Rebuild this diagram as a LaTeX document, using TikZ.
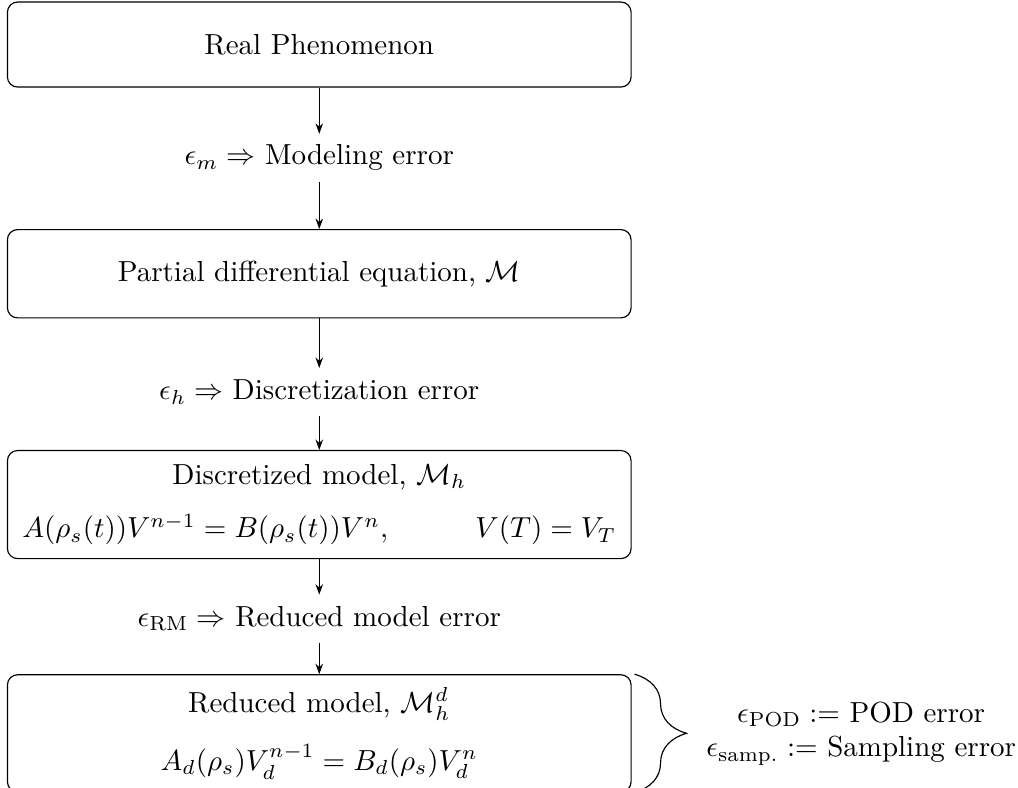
\documentclass[tikz,border=0pt]{standalone}
\usepackage{amsmath,amssymb}
\usetikzlibrary{arrows.meta,positioning,decorations.pathreplacing}
\tikzset{
  bloco/.style={rectangle, draw, rounded corners=3.5pt,
                minimum width=7.56cm, minimum height=1.03cm,
                inner sep=2pt, align=center},
  rotulo/.style={inner sep=0pt, minimum height=0.57cm},
  seta/.style={-{Stealth[length=3.6pt, width=2.6pt]}},
  chave/.style={decorate, decoration={brace, amplitude=0.63cm, raise=1pt}},
}

\begin{document}
\begin{tikzpicture}[node distance=0.56cm]
  \useasboundingbox (0,0) rectangle (12.34,-9.55);

  \node[bloco] (fen) at (3.87,-0.54) {Real Phenomenon};
  \node[rotulo, below=0.56cm of fen] (em) {$\epsilon_m \Rightarrow$ Modeling error};
  \node[bloco, minimum height=1.07cm, below=0.57cm of em] (edp)
       {Partial differential equation, $\mathcal{M}$};
  \draw[seta] (fen) -- (em);
  \draw[seta] (em) -- (edp);

  \node[rotulo, below=0.6cm of edp] (eh) {$\epsilon_h \Rightarrow$ Discretization error};
  \node[bloco, minimum height=1.31cm, below=0.41cm of eh] (disc)
       {Discretized model, $\mathcal{M}_h$\\[6.5pt]
        $A(\rho_s(t))V^{n-1} = B(\rho_s(t))V^n, \hspace{1cm} V(T) = V_T$};
  \draw[seta] (edp) -- (eh);
  \draw[seta] (eh) -- (disc);

  \node[rotulo, below=0.43cm of disc] (erm) {$\epsilon_{\mathrm{RM}} \Rightarrow$ Reduced model error};
  \node[bloco, minimum height=1.42cm, below=0.38cm of erm] (red)
       {Reduced model, $\mathcal{M}_h^d$\\[8pt]
        $A_d(\rho_s)V_d^{n-1} = B_d(\rho_s)V_d^n$};
  \draw[seta] (disc) -- (erm);
  \draw[seta] (erm) -- (red);

  % chave com as fontes de erro
  \draw[chave] (red.north east) -- (red.south east)
       node[midway, right=0.78cm, align=center] (erros)
       {$\epsilon_{\mathrm{POD}} :=$ POD error\\
        $\epsilon_{\mathrm{samp.}} :=$ Sampling error};
\end{tikzpicture}
\end{document}
